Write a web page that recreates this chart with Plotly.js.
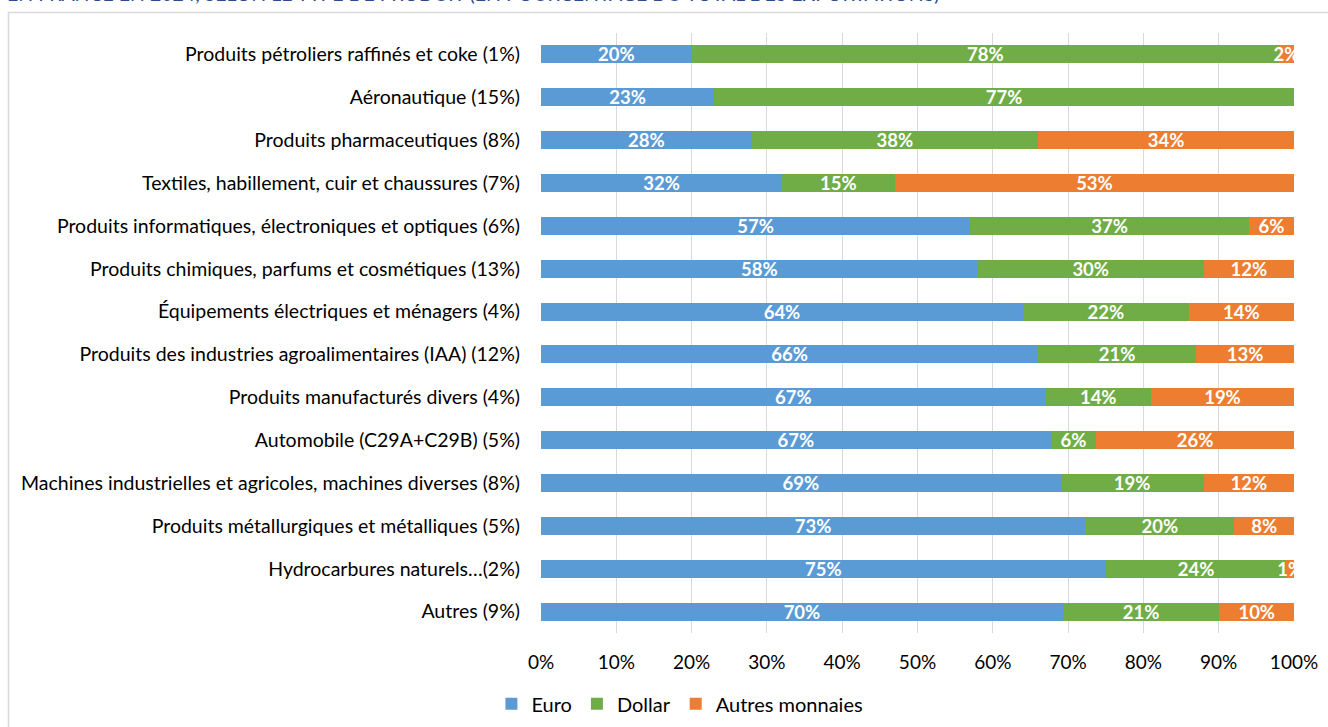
<!DOCTYPE html>
<html>
<head>
<meta charset="utf-8">
<script src="https://cdn.plot.ly/plotly-3.0.1.min.js"></script>
<style>
  html, body { margin: 0; padding: 0; background: #ffffff; }
  #chart { width: 1328px; height: 727px; }
</style>
</head>
<body>
<div id="chart"></div>
<script>
// Product categories, listed from top to bottom
const categories = [
  "Produits pétroliers raffinés et coke (1%)",
  "Aéronautique (15%)",
  "Produits pharmaceutiques (8%)",
  "Textiles, habillement, cuir et chaussures (7%)",
  "Produits informatiques, électroniques et optiques (6%)",
  "Produits chimiques, parfums et cosmétiques (13%)",
  "Équipements électriques et ménagers (4%)",
  "Produits des industries agroalimentaires (IAA) (12%)",
  "Produits manufacturés divers (4%)",
  "Automobile (C29A+C29B) (5%)",
  "Machines industrielles et agricoles, machines diverses (8%)",
  "Produits métallurgiques et métalliques (5%)",
  "Hydrocarbures naturels…(2%)",
  "Autres (9%)"
];

// Share of exports by invoicing currency (%)
const euro   = [20, 23, 28, 32, 57, 58, 64, 66, 67, 67, 69, 73, 75, 70];
const dollar = [78, 77, 38, 15, 37, 30, 22, 21, 14,  6, 19, 20, 24, 21];
const autres = [ 2,  0, 34, 53,  6, 12, 14, 13, 19, 26, 12,  8,  1, 10];

const seriesNames = ["Euro", "Dollar", "Autres monnaies"];
const seriesColors = ["#5B9BD5", "#70AD47", "#ED7D31"];

const xTickVals = [0, 10, 20, 30, 40, 50, 60, 70, 80, 90, 100];
const xTickText = ["0%", "10%", "20%", "30%", "40%", "50%", "60%", "70%", "80%", "90%", "100%"];

const titleText = "EN FRANCE EN 2024, SELON LE TYPE DE PRODUIT (EN POURCENTAGE DU TOTAL DES EXPORTATIONS)";

const FONT = "Lato, 'Open Sans', sans-serif";

const traces = [euro, dollar, autres].map((vals, i) => ({
  type: "bar",
  orientation: "h",
  name: seriesNames[i],
  y: categories,
  x: vals,
  text: vals.map(v => v + "%"),
  textposition: "inside",
  insidetextanchor: "middle",
  textangle: 0,
  constraintext: "none",
  textfont: { family: FONT, size: 18.5, color: "#ffffff", weight: "bold" },
  marker: { color: seriesColors[i], line: { width: 0 } },
  cliponaxis: true,
  hoverinfo: "name+x"
}));

const layout = {
  width: 1328,
  height: 727,
  paper_bgcolor: "#ffffff",
  plot_bgcolor: "#ffffff",
  margin: { l: 541, r: 34, t: 33, b: 94 },
  barmode: "stack",
  barnorm: "percent",
  bargap: 0.58,
  uniformtext: { mode: "show", minsize: 18.5 },
  font: { family: FONT, color: "#000000" },
  xaxis: {
    range: [0, 100],
    tickvals: xTickVals,
    ticktext: xTickText,
    showgrid: true,
    gridcolor: "#d9d9d9",
    gridwidth: 1,
    zeroline: false,
    showline: false,
    ticks: "",
    ticklabelstandoff: 16,
    tickfont: { family: FONT, size: 19, color: "#000000" },
    fixedrange: true
  },
  yaxis: {
    autorange: "reversed",
    showgrid: false,
    zeroline: false,
    showline: false,
    ticks: "",
    ticklabelstandoff: 20,
    tickfont: { family: FONT, size: 19.5, color: "#000000" },
    fixedrange: true
  },
  legend: {
    orientation: "h",
    xref: "container",
    yref: "container",
    x: 0.512,
    xanchor: "center",
    y: 0.032,
    yanchor: "middle",
    font: { family: FONT, size: 20, color: "#000000" },
    itemwidth: 30,
    traceorder: "normal"
  },
  shapes: [
    {
      type: "rect",
      xref: "paper", yref: "paper",
      x0: -0.7072, x1: 1.08,
      y0: -0.2, y1: 1.034,
      line: { color: "#d9d9d9", width: 1.5 },
      fillcolor: "rgba(0,0,0,0)",
      layer: "below"
    }
  ],
  annotations: [
    {
      text: titleText,
      xref: "paper", yref: "paper",
      x: -0.712, xanchor: "left",
      y: 1.043, yanchor: "bottom",
      showarrow: false,
      font: { family: FONT, size: 19.5, color: "#2E4A8C" }
    }
  ]
};

Plotly.newPlot("chart", traces, layout, { displayModeBar: false, staticPlot: true });
</script>
</body>
</html>
